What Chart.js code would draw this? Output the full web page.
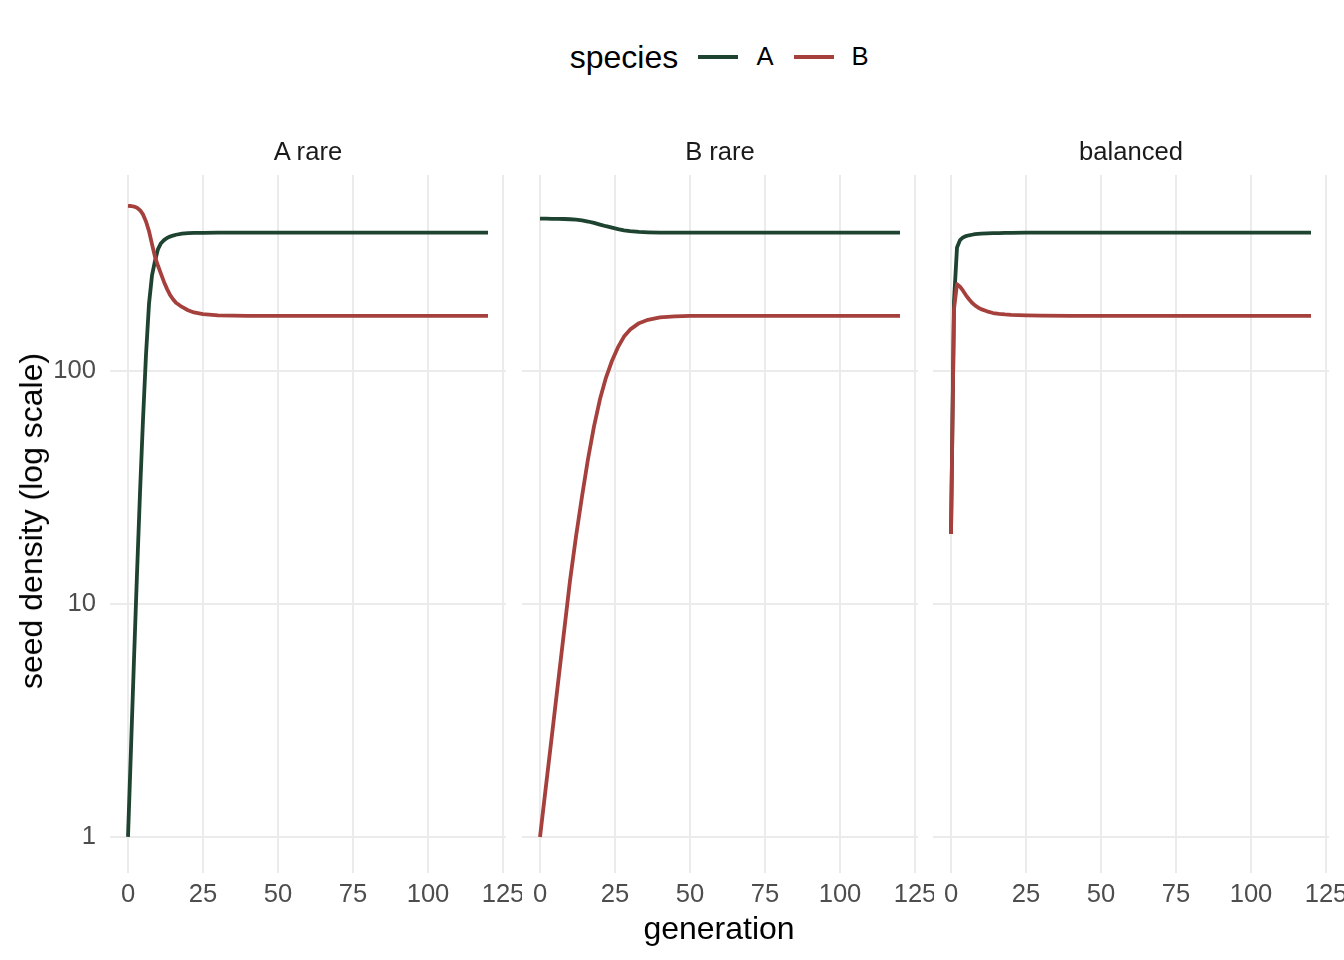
<!DOCTYPE html>
<html>
<head>
<meta charset="utf-8">
<script src="https://cdn.jsdelivr.net/npm/chart.js@4.4.1/dist/chart.umd.min.js"></script>
<style>
  html, body { margin:0; padding:0; background:#ffffff; }
  body { width:1344px; height:960px; position:relative; overflow:hidden; font-family:"Liberation Sans", Arial, Helvetica, sans-serif; }
  canvas { position:absolute; }
  .txt { position:absolute; white-space:nowrap; transform:translate(-50%,-50%); line-height:1; }
</style>
</head>
<body>
<canvas id="c1" width="522" height="765" style="left:0px;top:165px;width:522px;height:765px;"></canvas>
<canvas id="c2" width="422" height="765" style="left:512px;top:165px;width:422px;height:765px;"></canvas>
<canvas id="c3" width="421" height="765" style="left:923px;top:165px;width:421px;height:765px;"></canvas>

<div class="txt" style="left:308px;top:152px;font-size:25.6px;color:#1A1A1A;">A rare</div>
<div class="txt" style="left:720px;top:152px;font-size:25.6px;color:#1A1A1A;">B rare</div>
<div class="txt" style="left:1131px;top:152px;font-size:25.6px;color:#1A1A1A;">balanced</div>

<div class="txt" style="left:719px;top:928px;font-size:32px;color:#000;">generation</div>
<div class="txt" style="left:31px;top:521px;font-size:32px;color:#000;transform:translate(-50%,-50%) rotate(-90deg);">seed density (log scale)</div>

<div class="txt" style="left:624px;top:57px;font-size:32px;color:#000;">species</div>
<div style="position:absolute;left:698px;top:55px;width:40px;height:4px;background:#1E4330;"></div>
<div class="txt" style="left:765px;top:57px;font-size:25.6px;color:#000;">A</div>
<div style="position:absolute;left:794px;top:55px;width:40px;height:4px;background:#A5403D;"></div>
<div class="txt" style="left:860px;top:57px;font-size:25.6px;color:#000;">B</div>

<script>
// ---- data ----
const xTickValues = [0, 25, 50, 75, 100, 125];
const xTickLabels = ["0", "25", "50", "75", "100", "125"];
const yTickValues = [1, 10, 100];
const yTickLabels = ["1", "10", "100"];

// panel "A rare"
const aRareGen = [0,1,2,3,4,5,6,7,8,9,10,11,12,13,14,15,16,18,20,22,25,30,40,60,80,100,120];
const aRareA   = [1,2.4,5.8,13.5,30,62,118,195,258,298,335,355,366,374,379,383,386,390,392,393,393.5,394,394,394,394,394,394];
const aRareB   = [514,513,510,504,492,472,440,400,352,310,284,262,242,226,213,204,197,189,183,179,176,174,173,173,173,173,173];

// panel "B rare"
const bRareGen = [0,2,4,6,8,10,12,14,16,18,20,22,24,26,28,30,33,36,40,45,50,60,80,100,120];
const bRareA   = [453,453,452,452,451,450,448,445,440,434,427,420,414,408,403,400,397,395.5,394.5,394,394,394,394,394,394];
const bRareB   = [1,1.66,2.75,4.57,7.59,12.6,19.5,29,42,58,76,94,111,127,141,151,161,166.5,170.5,172.3,173,173,173,173,173];

// panel "balanced"
const balGen = [0,1,2,3,4,5,6,7,8,9,10,12,14,16,18,20,25,30,40,60,80,100,120];
const balA   = [20,200,340,366,376,381,384,386,388,389,390,391,392,392.5,393,393.5,394,394,394,394,394,394,394];
const balB   = [20,185,237,231,222,212,204,197,192,188,185,181,178,176.5,175.5,174.8,174,173.5,173,173,173,173,173];

const speciesNames = ["A", "B"];
const speciesColors = ["#1E4330", "#A5403D"];

// ---- chart construction ----
const FONT = '"Liberation Sans", Arial, Helvetica, sans-serif';

function series(gens, vals) {
  return gens.map((g, i) => ({ x: g, y: vals[i] }));
}

function noPad(s) {
  s.paddingLeft = 0; s.paddingRight = 0; s.paddingTop = 0; s.paddingBottom = 0;
}

function makePanel(id, gens, aVals, bVals, showY, padLeft, padRight) {
  const ctx = document.getElementById(id).getContext('2d');
  return new Chart(ctx, {
    type: 'line',
    data: {
      datasets: [
        { label: speciesNames[0], data: series(gens, aVals), borderColor: speciesColors[0], borderWidth: 3.8,
          pointRadius: 0, tension: 0, fill: false, order: 1, borderCapStyle: 'butt', borderJoinStyle: 'round' },
        { label: speciesNames[1], data: series(gens, bVals), borderColor: speciesColors[1], borderWidth: 3.8,
          pointRadius: 0, tension: 0, fill: false, order: 0, borderCapStyle: 'butt', borderJoinStyle: 'round' }
      ]
    },
    options: {
      responsive: false,
      animation: false,
      maintainAspectRatio: false,
      devicePixelRatio: 1,
      layout: { padding: { top: 10, right: padRight, left: padLeft, bottom: 0 } },
      plugins: { legend: { display: false }, tooltip: { enabled: false } },
      scales: {
        x: {
          type: 'linear', min: -6, max: 126,
          afterBuildTicks: (s) => { s.ticks = xTickValues.map(v => ({ value: v })); },
          afterFit: (s) => { s.height = 57; noPad(s); },
          grid: { color: '#EBEBEB', lineWidth: 2, drawTicks: false },
          border: { display: false },
          ticks: {
            autoSkip: false, maxRotation: 0, minRotation: 0, padding: 7,
            color: '#4D4D4D', font: { family: FONT, size: 25.6 },
            callback: (v) => { const i = xTickValues.indexOf(v); return i >= 0 ? xTickLabels[i] : ''; }
          }
        },
        y: {
          type: 'logarithmic', min: 0.736, max: 697,
          afterBuildTicks: (s) => { s.ticks = yTickValues.map(v => ({ value: v })); },
          afterFit: (s) => { s.width = showY ? 110 : 0; noPad(s); },
          grid: { color: '#EBEBEB', lineWidth: 2, drawTicks: false },
          border: { display: false },
          ticks: {
            display: showY, padding: 14,
            color: '#4D4D4D', font: { family: FONT, size: 25.6 },
            callback: (v) => { const i = yTickValues.indexOf(v); return i >= 0 ? yTickLabels[i] : ''; }
          }
        }
      }
    }
  });
}

makePanel('c1', aRareGen, aRareA, aRareB, true, 0, 16);
makePanel('c2', bRareGen, bRareA, bRareB, false, 10, 16);
makePanel('c3', balGen, balA, balB, false, 10, 15);
</script>
</body>
</html>
